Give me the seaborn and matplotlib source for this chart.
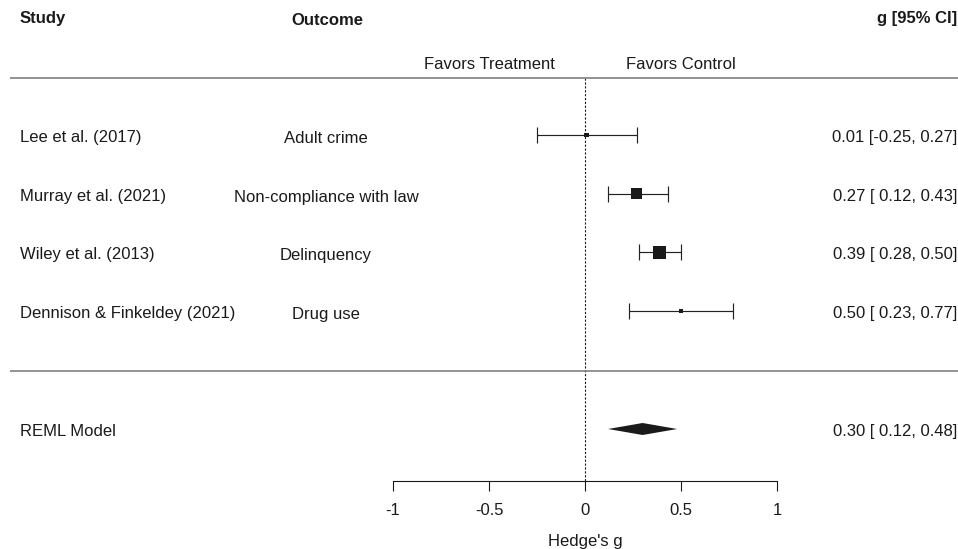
import numpy as np
import pandas as pd
import matplotlib
matplotlib.use("Agg")
import matplotlib.pyplot as plt
import seaborn as sns

# ---- data ----
studies = ["Lee et al. (2017)", "Murray et al. (2021)", "Wiley et al. (2013)",
           "Dennison & Finkeldey (2021)"]
outcomes = ["Adult crime", "Non-compliance with law", "Delinquency", "Drug use"]
estimates = [0.01, 0.27, 0.39, 0.50]
ci_lower = [-0.25, 0.12, 0.28, 0.23]
ci_upper = [0.27, 0.43, 0.50, 0.77]
weights = [14.9, 33.1, 39.7, 12.3]
model_label = "REML Model"
model_est = 0.30
model_lo = 0.12
model_hi = 0.48
xticks = [-1, -0.5, 0, 0.5, 1]
xtick_labels = ["-1", "-0.5", "0", "0.5", "1"]

sns.set_theme(style="white")
plt.rcParams['font.family'] = ['Liberation Sans', 'DejaVu Sans']

W, H = 958, 549
fig = plt.figure(figsize=(W / 100, H / 100), dpi=100)
ax = fig.add_axes([0, 0, 1, 1])

# layout (pixel-like units)
x0_px, px_per_unit = 585, 192
ax.set_xlim(-x0_px / px_per_unit, (W - x0_px) / px_per_unit)
ax.set_ylim(H, 0)
row_y = [135 + 58.7 * i for i in range(len(studies))]
model_y = 429
line_top, line_mid, axis_y = 78, 371, 481
txt = "#1a1a1a"
fs = 12

df = pd.DataFrame({"study": studies, "outcome": outcomes, "est": estimates,
                   "lo": ci_lower, "hi": ci_upper, "w": weights, "y": row_y})
df["area"] = (0.24 * df["w"]) ** 2

# CIs
ax.errorbar(df["est"], df["y"],
            xerr=[df["est"] - df["lo"], df["hi"] - df["est"]],
            fmt="none", ecolor="#222222", elinewidth=0.85, capsize=5.5,
            capthick=0.85, zorder=2)
# squares
sns.scatterplot(data=df, x="est", y="y", size="area",
                sizes=(df["area"].min(), df["area"].max()),
                size_norm=(df["area"].min(), df["area"].max()),
                marker="s", color="#1a1a1a", linewidth=0, legend=False,
                ax=ax, zorder=3)

# summary diamond
dh = 6
ax.fill([model_lo, model_est, model_hi, model_est],
        [model_y, model_y - dh, model_y, model_y + dh],
        color="#1a1a1a", lw=0, zorder=3)

# reference line at 0
ax.vlines(0, line_top, axis_y, colors="#1a1a1a", linewidth=0.8,
          linestyles=(0, (2, 1.5)), zorder=1)

# separator lines
yt = ax.get_yaxis_transform()
for yy in (line_top, line_mid):
    ax.plot([10 / W, 1], [yy, yy], transform=yt, color="#808080",
            lw=1.2, solid_capstyle="butt", zorder=1)

# headers
ax.text(20 / W, 23.5, "Study", transform=yt, fontsize=fs,
        fontweight="bold", va="baseline", ha="left", color=txt)
ax.text(327 / W, 24.8, "Outcome", transform=yt, fontsize=fs,
        fontweight="bold", va="baseline", ha="center", color=txt)
ax.text(957 / W, 23.5, "g [95% CI]", transform=yt, fontsize=fs,
        fontweight="bold", va="baseline", ha="right", color=txt)
ax.text(-0.5, 69, "Favors Treatment", fontsize=fs, va="baseline",
        ha="center", color=txt)
ax.text(0.5, 69, "Favors Control", fontsize=fs, va="baseline",
        ha="center", color=txt)

def fmt(v):
    s = f"{v:.2f}"
    return s if v < 0 else " " + s

for _, r in df.iterrows():
    ax.text(20 / W, r["y"] + 7, r["study"], transform=yt, fontsize=fs,
            va="baseline", ha="left", color=txt)
    ax.text(326 / W, r["y"] + 8, r["outcome"], transform=yt, fontsize=fs,
            va="baseline", ha="center", color=txt)
    ax.text(957 / W, r["y"] + 7,
            f"{r['est']:.2f} [{fmt(r['lo'])},{fmt(r['hi'])}]",
            transform=yt, fontsize=fs, va="baseline", ha="right", color=txt)

ax.text(20 / W, model_y + 7, model_label, transform=yt, fontsize=fs,
        va="baseline", ha="left", color=txt)
ax.text(957 / W, model_y + 7,
        f"{model_est:.2f} [{fmt(model_lo)},{fmt(model_hi)}]",
        transform=yt, fontsize=fs, va="baseline", ha="right", color=txt)

# axis
for s in ("left", "right", "top"):
    ax.spines[s].set_visible(False)
sp = ax.spines["bottom"]
sp.set_visible(True)
sp.set_position(("data", axis_y))
sp.set_bounds(-1, 1)
sp.set_color("#1a1a1a")
sp.set_linewidth(0.8)
ax.set_xticks(xticks)
ax.set_xticklabels(xtick_labels, fontsize=fs, color=txt)
ax.tick_params(axis="x", direction="out", length=7.2, width=0.8,
               color="#1a1a1a", pad=8.5, bottom=True)
ax.set_yticks([])
ax.set_xlabel("Hedge's g", fontsize=fs, color=txt, labelpad=12)
ax.xaxis.label.set_x(x0_px / W)
ax.set_ylabel("")
ax.grid(False)
ax.patch.set_alpha(0)

fig.savefig("out.png", dpi=100, facecolor="white")
